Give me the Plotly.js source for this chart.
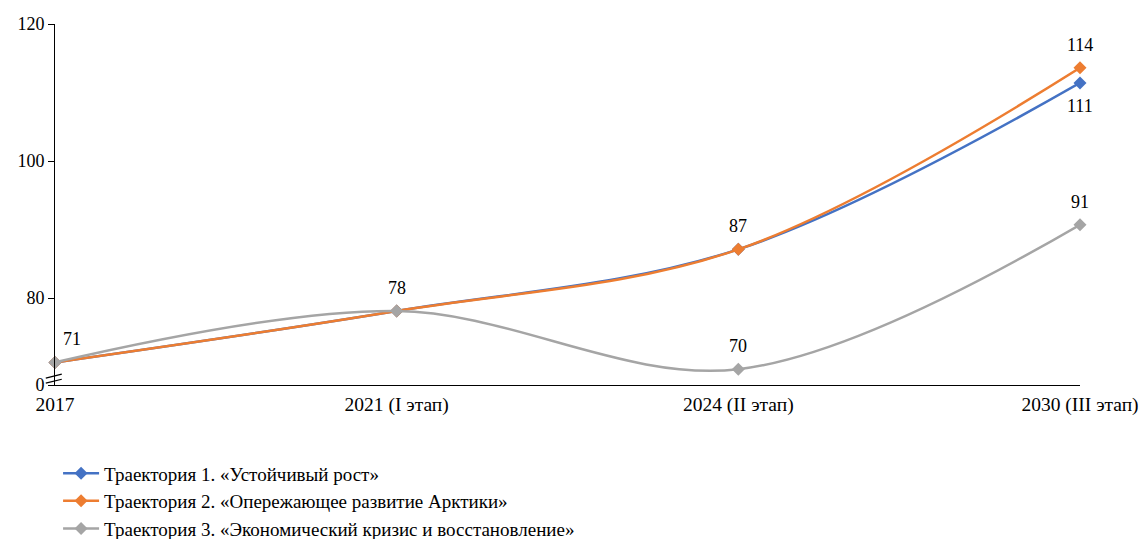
<!DOCTYPE html>
<html>
<head>
<meta charset="utf-8">
<script src="https://cdn.plot.ly/plotly-3.0.1.min.js"></script>
<style>html,body{margin:0;padding:0;background:#fff;}#chart{width:1141px;height:539px;}</style>
</head>
<body>
<div id="chart"></div>
<script>
const categories = ['2017', '2021 (I этап)', '2024 (II этап)', '2030 (III этап)'];
const seriesNames = [
  'Траектория 1. «Устойчивый рост»',
  'Траектория 2. «Опережающее развитие Арктики»',
  'Траектория 3. «Экономический кризис и восстановление»'
];
const traj1 = [70.6, 78.1, 87.1, 111.4];
const traj2 = [70.6, 78.1, 87.1, 113.6];
const traj3 = [70.6, 78.1, 69.6, 90.7];
// which points carry a value label (others are hidden behind identical labels)
const showLabel1 = [false, false, false, true];
const showLabel2 = [false, false, true, true];
const showLabel3 = [true, true, true, true];
const tickVals = [67.3, 80, 100, 120];
const tickText = ['0', '80', '100', '120'];

const colors = ['#4472C4', '#ED7D31', '#A5A5A5'];
const font = 'Liberation Serif, Times New Roman, serif';

function mk(vals, name, color) {
  return {
    x: categories, y: vals, name: name, type: 'scatter', mode: 'lines+markers',
    line: {color: color, width: 2.5, shape: 'spline', smoothing: 1},
    marker: {symbol: 'diamond', size: 10, color: color},
    cliponaxis: false, hoverinfo: 'skip'
  };
}

const data = [
  mk(traj1, seriesNames[0], colors[0]),
  mk(traj2, seriesNames[1], colors[1]),
  mk(traj3, seriesNames[2], colors[2])
];

const annotations = [];
function addLabels(vals, show, below) {
  vals.forEach((v, i) => {
    if (!show[i]) return;
    annotations.push({
      x: i, y: v, xref: 'x', yref: 'y', text: String(Math.round(v)),
      showarrow: false, yshift: below ? -23 : 23, xshift: i === 0 ? 17 : 0,
      font: {family: font, size: 18, color: '#000'}
    });
  });
}
addLabels(traj1, showLabel1, true);
addLabels(traj2, showLabel2, false);
addLabels(traj3, showLabel3, false);

const layout = {
  width: 1141, height: 539,
  margin: {l: 55, r: 61, t: 24, b: 154, autoexpand: false},
  paper_bgcolor: '#fff', plot_bgcolor: '#fff',
  font: {family: font, size: 18, color: '#000'},
  showlegend: true,
  legend: {x: 0.003, xanchor: 'left', y: -0.192, yanchor: 'top', itemwidth: 36, maxheight: 150,
           font: {family: font, size: 19, color: '#000'}, tracegroupgap: 0},
  xaxis: {
    type: 'category', range: [0, 3], showgrid: false, zeroline: false, automargin: false,
    showline: true, linecolor: '#000', linewidth: 1, ticks: '', ticklabelstandoff: 2,
    tickfont: {family: font, size: 19.5, color: '#000'}, fixedrange: true
  },
  yaxis: {
    range: [67.3, 120], tickvals: tickVals, ticktext: tickText, automargin: false,
    showgrid: false, zeroline: false, showline: true, linecolor: '#000', linewidth: 1,
    ticks: 'outside', ticklen: 6, tickcolor: '#000',
    tickfont: {family: font, size: 18, color: '#000'}, fixedrange: true
  },
  annotations: annotations,
  shapes: [
    {type: 'line', xref: 'paper', yref: 'paper', x0: -0.009, x1: 0.0066, y0: 0.019, y1: 0.030, line: {color: '#000', width: 1.2}},
    {type: 'line', xref: 'paper', yref: 'paper', x0: -0.009, x1: 0.0066, y0: 0.005, y1: 0.016, line: {color: '#000', width: 1.2}}
  ]
};

Plotly.newPlot('chart', data, layout, {displayModeBar: false, staticPlot: true});
</script>
</body>
</html>
